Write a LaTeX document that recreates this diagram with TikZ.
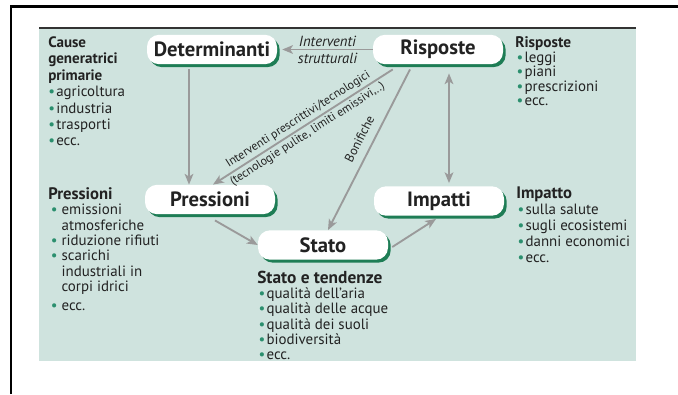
\documentclass[tikz,border=0pt]{standalone}
\usepackage{fontspec}
\setmainfont{PT Sans}
\usetikzlibrary{arrows.meta,calc,shadows}
\definecolor{panel}{HTML}{CFE3DE}
\definecolor{arrowgray}{HTML}{9A9A9A}
\definecolor{shadowgreen}{HTML}{1E7D55}
\definecolor{bulletgreen}{HTML}{2B8F6E}
\definecolor{ink}{HTML}{222222}
\newcommand{\bl}[1][6pt]{\makebox[#1][l]{\textcolor{bulletgreen}{\textbullet}}}
\newcommand{\bi}[1][6pt]{\hspace*{#1}}
\begin{document}
\begin{tikzpicture}[x=0.75pt,y=-0.75pt,
  box/.style={rounded corners=9pt, fill=white, minimum width=97.5pt, minimum height=22pt,
    inner sep=0pt, text=ink, font=\bfseries\fontsize{15.5}{18}\selectfont,
    drop shadow={shadow xshift=2pt, shadow yshift=-2.2pt, fill=shadowgreen, opacity=1}},
  arr/.style={draw=arrowgray, line width=1.4pt, -{Stealth[length=8pt,width=6.5pt,inset=2pt]}},
  side/.style={anchor=north west, inner sep=0pt, align=left, text=ink},
  lab/.style={inner sep=0pt, text=ink, align=center}]
\useasboundingbox (0,0) rectangle (678,394);
% frame and panel
\draw[line width=2pt] (11,394) -- (11,6.5) -- (678,6.5);
\fill[panel] (39,28) rectangle (636,361);
\draw[line width=1.3pt, black!80] (39,28) -- (636,28);
% nodes
\node[box] (det) at (212,49.5) {Determinanti};
\node[box] (risp) at (438,49.5) {Risposte};
\node[box] (pres) at (210,199.5) {Pressioni};
\node[box] (imp) at (439,201) {Impatti};
\node[box] (stato) at (323,245) {Stato};
% connectors
\draw[arr] (risp.west) -- node[lab, font=\itshape\fontsize{11}{12.75}\selectfont] {Interventi\\strutturali} ($(det.east)+(5,0)$);
\coordinate (c1) at ($(det.south)+(-23,5)$);
\draw[arr] (c1) -- (c1 |- pres.north);
\draw[arr] ($(risp.south west)+(20,5)$) -- node[lab, sloped, pos=0.5, font=\fontsize{9}{13}\selectfont] {Interventi prescrittivi/tecnologici\\(tecnologie pulite, limiti emissivi,..)} ($(pres.north)+(3,0)$);
\draw[arr] ($(risp.south)+(-28,5)$) -- node[lab, sloped, pos=0.47, above=6pt, font=\fontsize{9.5}{11}\selectfont] {Bonifiche} ($(stato.north)+(5,0)$);
\draw[arr, {Stealth[length=8pt,width=6.5pt,inset=2pt]}-{Stealth[length=8pt,width=6.5pt,inset=2pt]}] ($(risp.south)+(11,9)$) -- ($(imp.north)+(10,-3)$);
\draw[arr] ($(pres.south)+(5,6)$) -- (stato.west);
\draw[arr] ($(stato.east)+(4,2)$) -- ($(imp.south)+(-3,3)$);
% side texts
\node[side, font=\fontsize{11.2}{12.3}\selectfont] (tcause) at (48,36.5) {\textbf{\fontsize{11.3}{12.3}\selectfont Cause}\\\textbf{\fontsize{11.3}{12.3}\selectfont generatrici}\\\textbf{\fontsize{11.3}{12.3}\selectfont primarie}\\\bl[6pt]agricoltura\\\bl[6pt]industria\\\bl[6pt]trasporti\\\bl[6pt]ecc.};
\node[side, font=\fontsize{11.2}{11.6}\selectfont] (tpres) at (48,187) {\textbf{\fontsize{12.5}{11.6}\selectfont Pressioni}\\\hspace*{2pt}\bl[8pt]emissioni\\\bi[10pt]atmosferiche\\\hspace*{2pt}\bl[8pt]riduzione rifiuti\\\hspace*{2pt}\bl[8pt]scarichi\\\bi[10pt]industriali in\\\bi[10pt]corpi idrici\\[2pt]\hspace*{2pt}\bl[8pt]ecc.};
\node[side, font=\fontsize{11.2}{10.9}\selectfont] (trisp) at (515,36.5) {\textbf{\fontsize{11.5}{10.9}\selectfont Risposte}\\\hspace*{1pt}\bl[6pt]leggi\\\hspace*{1pt}\bl[6pt]piani\\\hspace*{1pt}\bl[6pt]prescrizioni\\\hspace*{1pt}\bl[6pt]ecc.};
\node[side, font=\fontsize{11.2}{12}\selectfont] (timp) at (516,187) {\textbf{\fontsize{12.5}{12}\selectfont Impatto}\\\hspace*{1pt}\bl[6pt]sulla salute\\\hspace*{1pt}\bl[6pt]sugli ecosistemi\\\hspace*{1pt}\bl[6pt]danni economici\\\hspace*{1pt}\bl[6pt]ecc.};
\node[side, font=\fontsize{11.2}{11.5}\selectfont] (tstato) at (257,270.5) {\textbf{\fontsize{13}{11.5}\selectfont Stato e tendenze}\\\hspace*{1pt}\bl[6pt]qualità dell'aria\\\hspace*{1pt}\bl[6pt]qualità delle acque\\\hspace*{1pt}\bl[6pt]qualità dei suoli\\\hspace*{1pt}\bl[6pt]biodiversità\\\hspace*{1pt}\bl[6pt]ecc.};
\end{tikzpicture}
\end{document}
